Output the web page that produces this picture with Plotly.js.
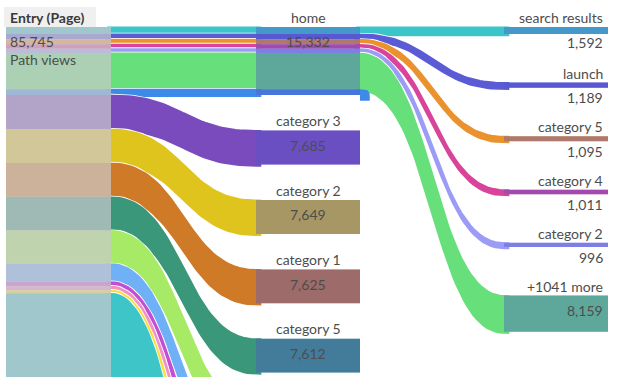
<!DOCTYPE html>
<html><head><meta charset="utf-8">
<script src="https://cdn.plot.ly/plotly-3.0.1.min.js"></script>
<style>html,body{margin:0;padding:0;background:#fff;overflow:hidden}#chart{width:630px;height:377px}</style>
</head><body><div id="chart"></div>
<script>
// ---------------- data ----------------
const entryLabel = "Entry (Page)";
const entryTotal = 85745;
const metricLabel = "Path views";

const step1Names = ["home", "category 3", "category 2", "category 1", "category 5"];
const step1Values = [15332, 7685, 7649, 7625, 7612];
const step1Colors = [null, "#7a4bbd", "#e0c41e", "#cf7a27", "#3a977a"];

// further step-1 pages that continue below the visible area (names cut off)
const hiddenStep1Values = [7480, 4050, 1000, 900, 700];
const hiddenStep1Colors = ["#a6ea66", "#6fb0f6", "#c24fd1", "#f18fc8", "#f7df3c"];
const remainderColor = "#3ec5c8";

// what follows "home"
const step2Names = ["search results", "launch", "category 5", "category 4", "category 2", "+1041 more"];
const step2Values = [1592, 1189, 1095, 1011, 996, 8159];
const step2Colors = ["#3cc5c9", "#5b5bd6", "#ea922e", "#d9449b", "#9c9cf6", "#67e07b"];
const exitColor = "#3d8ae8";

// ---------------- layout constants ----------------
const W = 630, H = 377;
const TOP = 27;
const COL = [[6, 111], [256, 360], [504, 608]];
const PAD1 = 35.5, PAD2 = 48.5;
const K = 0.004435;           // px per path view
const OVER0 = "rgba(202,201,205,0.7)";
const OVER = "rgba(82,86,205,0.4)";
const FONT = "Lato, 'Open Sans', sans-serif";
const TXT = "#4d4d4d";
const LINK_STROKE = 2.6, GAP_STROKE = 4.4;

const sum = a => a.reduce((s, v) => s + v, 0);
const fmt = v => v.toLocaleString("en-US");

const exitValue = step1Values[0] - sum(step2Values);
const remainder = entryTotal - sum(step1Values) - sum(hiddenStep1Values);

const traces = [];
function poly(xs, ys, fill, lineColor, lw) {
  traces.push({
    type: "scatter", mode: "lines", x: xs, y: ys, fill: "toself", fillcolor: fill,
    line: lw ? {color: lineColor, width: lw} : {color: "rgba(0,0,0,0)", width: 0},
    hoverinfo: "skip", showlegend: false
  });
}
function rect(x0, x1, y0, y1, fill) { poly([x0, x1, x1, x0, x0], [y0, y0, y1, y1, y0], fill, null, 0); }
function link(x0, x1, s0, s1, t0, t1, color) {
  const N = 48, xs = [], ys = [];
  const f = t => 1.5 * t * (1 - t) + t * t * t, g = t => 3 * t * t - 2 * t * t * t;
  xs.push(x0 - 4); ys.push(s0);
  for (let i = 0; i <= N; i++) { const t = i / N; xs.push(x0 + (x1 - x0) * f(t)); ys.push(s0 + (t0 - s0) * g(t)); }
  xs.push(x1 + 4); ys.push(t0); xs.push(x1 + 4); ys.push(t1);
  for (let i = N; i >= 0; i--) { const t = i / N; xs.push(x0 + (x1 - x0) * f(t)); ys.push(s1 + (t1 - s1) * g(t)); }
  xs.push(x0 - 4); ys.push(s1); xs.push(x0 - 4); ys.push(s0);
  poly(xs, ys, "#ffffff", "#ffffff", GAP_STROKE);
  poly(xs, ys, color, color, LINK_STROKE);
}

// ---------------- positions ----------------
const allStep1Values = step1Values.concat(hiddenStep1Values, [remainder]);
const allStep1Colors = step1Colors.concat(hiddenStep1Colors, [remainderColor]);
const top1 = []; { let y = TOP; allStep1Values.forEach(v => { top1.push(y); y += v * K + PAD1; }); }
const top2 = []; { let y = TOP; step2Values.forEach(v => { top2.push(y); y += v * K + PAD2; }); }

const homeBandValues = step2Values.concat([exitValue]);
const homeBandColors = step2Colors.concat([exitColor]);
const homeBands = []; { let y = TOP; homeBandValues.forEach(v => { homeBands.push([y, y + v * K]); y += v * K; }); }

const entryBands = [];
homeBands.forEach((b, i) => entryBands.push([b[0], b[1], homeBandColors[i]]));
{ let y = homeBands[homeBands.length - 1][1];
  for (let i = 1; i < allStep1Values.length; i++) {
    const h = allStep1Values[i] * K;
    entryBands.push([y, y + h, allStep1Colors[i]]);
    y += h;
  } }

// ---------------- links step0 -> step1 ----------------
homeBands.forEach((b, i) => link(COL[0][1], COL[1][0], b[0] + 0.8, b[1] + 0.8, b[0] + 0.8, b[1] + 0.8, homeBandColors[i]));
{ let y = homeBands[homeBands.length - 1][1];
  for (let i = 1; i < allStep1Values.length; i++) {
    const h = allStep1Values[i] * K;
    link(COL[0][1], COL[1][0], y + 0.8, y + h + 0.8, top1[i] + 0.8, top1[i] + h + 0.8, allStep1Colors[i]);
    y += h;
  } }

// ---------------- links home -> step2 ----------------
step2Values.forEach((v, i) => {
  const b = homeBands[i];
  link(COL[1][1], COL[2][0], b[0] + 0.8, b[1] + 0.8, top2[i] + 0.8, top2[i] + v * K + 0.8, step2Colors[i]);
});
// exit stub
{ const b = homeBands[homeBands.length - 1], h = b[1] - b[0], x = COL[1][1];
  const xs = [x, x + 4], ys = [b[0], b[0]];
  for (let i = 1; i <= 10; i++) { const a = (Math.PI / 2) * i / 10; xs.push(x + 4 + h * Math.sin(a)); ys.push(b[0] + h - h * Math.cos(a)); }
  xs.push(x + 4 + h, x, x); ys.push(b[1] + h, b[1] + h, b[0]);
  poly(xs, ys, exitColor, null, 0);
}

// ---------------- node boxes ----------------
entryBands.forEach(b => rect(COL[0][0], COL[0][1], b[0], b[1], b[2]));
rect(COL[0][0], COL[0][1], TOP, TOP + entryTotal * K, OVER0);

homeBands.forEach((b, i) => rect(COL[1][0], COL[1][1], b[0], b[1], homeBandColors[i]));
for (let i = 0; i < allStep1Values.length; i++) {
  const y0 = top1[i], y1 = y0 + allStep1Values[i] * K;
  if (i > 0) rect(COL[1][0], COL[1][1], y0, y1, allStep1Colors[i]);
  rect(COL[1][0], COL[1][1], y0, y1, OVER);
}
step2Values.forEach((v, i) => {
  rect(COL[2][0], COL[2][1], top2[i], top2[i] + v * K, step2Colors[i]);
  rect(COL[2][0], COL[2][1], top2[i], top2[i] + v * K, OVER);
});

// ---------------- labels ----------------
const ann = [];
function label(text, x, y, xanchor, extra) {
  ann.push(Object.assign({text: text, x: x, y: y, xref: "x", yref: "y", xanchor: xanchor, yanchor: "middle",
    showarrow: false, font: {family: FONT, size: 14, color: TXT}}, extra || {}));
}
label("<b>" + entryLabel + "</b>", COL[0][0] + 2, TOP - 10, "left", {font: {family: FONT, size: 14, color: "#3a3a3a"}});
label(fmt(entryTotal), COL[0][0] + 2, TOP + 14, "left");
label(metricLabel, COL[0][0] + 2, TOP + 32, "left");

const c1 = (COL[1][0] + COL[1][1]) / 2;
step1Names.forEach((n, i) => {
  label(n, c1, top1[i] - 10, "center");
  label(fmt(step1Values[i]), c1, top1[i] + 14.5, "center");
});
step2Names.forEach((n, i) => {
  label(n, COL[2][1] - 3, top2[i] - 9.5, "right");
  label(fmt(step2Values[i]), COL[2][1] - 3, top2[i] + 15, "right");
});

const layout = {
  width: W, height: H, margin: {l: 0, r: 0, t: 0, b: 0},
  paper_bgcolor: "#ffffff", plot_bgcolor: "#ffffff", showlegend: false,
  xaxis: {range: [0, W], visible: false, fixedrange: true},
  yaxis: {range: [H, 0], visible: false, fixedrange: true},
  shapes: [{type: "rect", xref: "x", yref: "y", x0: 4, x1: 96, y0: 7, y1: TOP, fillcolor: "#f0f0f0", line: {width: 0}, layer: "below"}],
  annotations: ann
};
Plotly.newPlot("chart", traces, layout, {staticPlot: true, displayModeBar: false});
</script>
</body></html>
